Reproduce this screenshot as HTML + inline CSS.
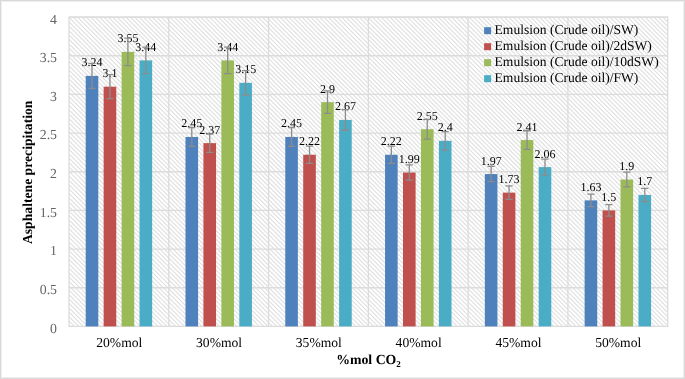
<!DOCTYPE html><html><head><meta charset="utf-8"><style>html,body{margin:0;padding:0;background:#fff}svg{display:block;will-change:transform}text{font-family:"Liberation Serif",serif;text-rendering:geometricPrecision}</style></head><body>
<svg width="685" height="379" viewBox="0 0 685 379">
<defs><clipPath id="pc"><rect x="69.0" y="17.1" width="598.7" height="309.29999999999995"/></clipPath></defs>
<rect x="0" y="0" width="685" height="379" fill="#fff"/>
<rect x="69.0" y="17.1" width="598.7" height="309.29999999999995" fill="#fff"/>
<path d="M69.00 325.40L70.00 326.40M69.00 321.00L74.40 326.40M69.00 316.60L78.80 326.40M69.00 312.20L83.20 326.40M69.00 307.80L87.60 326.40M69.00 303.40L92.00 326.40M69.00 299.00L96.40 326.40M69.00 294.60L100.80 326.40M69.00 290.20L105.20 326.40M69.00 285.80L109.60 326.40M69.00 281.40L114.00 326.40M69.00 277.00L118.40 326.40M69.00 272.60L122.80 326.40M69.00 268.20L127.20 326.40M69.00 263.80L131.60 326.40M69.00 259.40L136.00 326.40M69.00 255.00L140.40 326.40M69.00 250.60L144.80 326.40M69.00 246.20L149.20 326.40M69.00 241.80L153.60 326.40M69.00 237.40L158.00 326.40M69.00 233.00L162.40 326.40M69.00 228.60L166.80 326.40M69.00 224.20L171.20 326.40M69.00 219.80L175.60 326.40M69.00 215.40L180.00 326.40M69.00 211.00L184.40 326.40M69.00 206.60L188.80 326.40M69.00 202.20L193.20 326.40M69.00 197.80L197.60 326.40M69.00 193.40L202.00 326.40M69.00 189.00L206.40 326.40M69.00 184.60L210.80 326.40M69.00 180.20L215.20 326.40M69.00 175.80L219.60 326.40M69.00 171.40L224.00 326.40M69.00 167.00L228.40 326.40M69.00 162.60L232.80 326.40M69.00 158.20L237.20 326.40M69.00 153.80L241.60 326.40M69.00 149.40L246.00 326.40M69.00 145.00L250.40 326.40M69.00 140.60L254.80 326.40M69.00 136.20L259.20 326.40M69.00 131.80L263.60 326.40M69.00 127.40L268.00 326.40M69.00 123.00L272.40 326.40M69.00 118.60L276.80 326.40M69.00 114.20L281.20 326.40M69.00 109.80L285.60 326.40M69.00 105.40L290.00 326.40M69.00 101.00L294.40 326.40M69.00 96.60L298.80 326.40M69.00 92.20L303.20 326.40M69.00 87.80L307.60 326.40M69.00 83.40L312.00 326.40M69.00 79.00L316.40 326.40M69.00 74.60L320.80 326.40M69.00 70.20L325.20 326.40M69.00 65.80L329.60 326.40M69.00 61.40L334.00 326.40M69.00 57.00L338.40 326.40M69.00 52.60L342.80 326.40M69.00 48.20L347.20 326.40M69.00 43.80L351.60 326.40M69.00 39.40L356.00 326.40M69.00 35.00L360.40 326.40M69.00 30.60L364.80 326.40M69.00 26.20L369.20 326.40M69.00 21.80L373.60 326.40M69.00 17.40L378.00 326.40M73.10 17.10L382.40 326.40M77.50 17.10L386.80 326.40M81.90 17.10L391.20 326.40M86.30 17.10L395.60 326.40M90.70 17.10L400.00 326.40M95.10 17.10L404.40 326.40M99.50 17.10L408.80 326.40M103.90 17.10L413.20 326.40M108.30 17.10L417.60 326.40M112.70 17.10L422.00 326.40M117.10 17.10L426.40 326.40M121.50 17.10L430.80 326.40M125.90 17.10L435.20 326.40M130.30 17.10L439.60 326.40M134.70 17.10L444.00 326.40M139.10 17.10L448.40 326.40M143.50 17.10L452.80 326.40M147.90 17.10L457.20 326.40M152.30 17.10L461.60 326.40M156.70 17.10L466.00 326.40M161.10 17.10L470.40 326.40M165.50 17.10L474.80 326.40M169.90 17.10L479.20 326.40M174.30 17.10L483.60 326.40M178.70 17.10L488.00 326.40M183.10 17.10L492.40 326.40M187.50 17.10L496.80 326.40M191.90 17.10L501.20 326.40M196.30 17.10L505.60 326.40M200.70 17.10L510.00 326.40M205.10 17.10L514.40 326.40M209.50 17.10L518.80 326.40M213.90 17.10L523.20 326.40M218.30 17.10L527.60 326.40M222.70 17.10L532.00 326.40M227.10 17.10L536.40 326.40M231.50 17.10L540.80 326.40M235.90 17.10L545.20 326.40M240.30 17.10L549.60 326.40M244.70 17.10L554.00 326.40M249.10 17.10L558.40 326.40M253.50 17.10L562.80 326.40M257.90 17.10L567.20 326.40M262.30 17.10L571.60 326.40M266.70 17.10L576.00 326.40M271.10 17.10L580.40 326.40M275.50 17.10L584.80 326.40M279.90 17.10L589.20 326.40M284.30 17.10L593.60 326.40M288.70 17.10L598.00 326.40M293.10 17.10L602.40 326.40M297.50 17.10L606.80 326.40M301.90 17.10L611.20 326.40M306.30 17.10L615.60 326.40M310.70 17.10L620.00 326.40M315.10 17.10L624.40 326.40M319.50 17.10L628.80 326.40M323.90 17.10L633.20 326.40M328.30 17.10L637.60 326.40M332.70 17.10L642.00 326.40M337.10 17.10L646.40 326.40M341.50 17.10L650.80 326.40M345.90 17.10L655.20 326.40M350.30 17.10L659.60 326.40M354.70 17.10L664.00 326.40M359.10 17.10L667.70 325.70M363.50 17.10L667.70 321.30M367.90 17.10L667.70 316.90M372.30 17.10L667.70 312.50M376.70 17.10L667.70 308.10M381.10 17.10L667.70 303.70M385.50 17.10L667.70 299.30M389.90 17.10L667.70 294.90M394.30 17.10L667.70 290.50M398.70 17.10L667.70 286.10M403.10 17.10L667.70 281.70M407.50 17.10L667.70 277.30M411.90 17.10L667.70 272.90M416.30 17.10L667.70 268.50M420.70 17.10L667.70 264.10M425.10 17.10L667.70 259.70M429.50 17.10L667.70 255.30M433.90 17.10L667.70 250.90M438.30 17.10L667.70 246.50M442.70 17.10L667.70 242.10M447.10 17.10L667.70 237.70M451.50 17.10L667.70 233.30M455.90 17.10L667.70 228.90M460.30 17.10L667.70 224.50M464.70 17.10L667.70 220.10M469.10 17.10L667.70 215.70M473.50 17.10L667.70 211.30M477.90 17.10L667.70 206.90M482.30 17.10L667.70 202.50M486.70 17.10L667.70 198.10M491.10 17.10L667.70 193.70M495.50 17.10L667.70 189.30M499.90 17.10L667.70 184.90M504.30 17.10L667.70 180.50M508.70 17.10L667.70 176.10M513.10 17.10L667.70 171.70M517.50 17.10L667.70 167.30M521.90 17.10L667.70 162.90M526.30 17.10L667.70 158.50M530.70 17.10L667.70 154.10M535.10 17.10L667.70 149.70M539.50 17.10L667.70 145.30M543.90 17.10L667.70 140.90M548.30 17.10L667.70 136.50M552.70 17.10L667.70 132.10M557.10 17.10L667.70 127.70M561.50 17.10L667.70 123.30M565.90 17.10L667.70 118.90M570.30 17.10L667.70 114.50M574.70 17.10L667.70 110.10M579.10 17.10L667.70 105.70M583.50 17.10L667.70 101.30M587.90 17.10L667.70 96.90M592.30 17.10L667.70 92.50M596.70 17.10L667.70 88.10M601.10 17.10L667.70 83.70M605.50 17.10L667.70 79.30M609.90 17.10L667.70 74.90M614.30 17.10L667.70 70.50M618.70 17.10L667.70 66.10M623.10 17.10L667.70 61.70M627.50 17.10L667.70 57.30M631.90 17.10L667.70 52.90M636.30 17.10L667.70 48.50M640.70 17.10L667.70 44.10M645.10 17.10L667.70 39.70M649.50 17.10L667.70 35.30M653.90 17.10L667.70 30.90M658.30 17.10L667.70 26.50M662.70 17.10L667.70 22.10M667.10 17.10L667.70 17.70" stroke="#e1e1e1" stroke-width="1.2" fill="none" clip-path="url(#pc)"/>
<line x1="69.0" y1="287.74" x2="667.7" y2="287.74" stroke="#dcdcdc" stroke-width="1.3"/>
<line x1="69.0" y1="249.07" x2="667.7" y2="249.07" stroke="#dcdcdc" stroke-width="1.3"/>
<line x1="69.0" y1="210.41" x2="667.7" y2="210.41" stroke="#dcdcdc" stroke-width="1.3"/>
<line x1="69.0" y1="171.75" x2="667.7" y2="171.75" stroke="#dcdcdc" stroke-width="1.3"/>
<line x1="69.0" y1="133.09" x2="667.7" y2="133.09" stroke="#dcdcdc" stroke-width="1.3"/>
<line x1="69.0" y1="94.43" x2="667.7" y2="94.43" stroke="#dcdcdc" stroke-width="1.3"/>
<line x1="69.0" y1="55.76" x2="667.7" y2="55.76" stroke="#dcdcdc" stroke-width="1.3"/>
<line x1="69.0" y1="17.10" x2="667.7" y2="17.10" stroke="#dcdcdc" stroke-width="1.3"/>
<line x1="168.78" y1="17.1" x2="168.78" y2="326.4" stroke="#dcdcdc" stroke-width="1.3"/>
<line x1="268.57" y1="17.1" x2="268.57" y2="326.4" stroke="#dcdcdc" stroke-width="1.3"/>
<line x1="368.35" y1="17.1" x2="368.35" y2="326.4" stroke="#dcdcdc" stroke-width="1.3"/>
<line x1="468.13" y1="17.1" x2="468.13" y2="326.4" stroke="#dcdcdc" stroke-width="1.3"/>
<line x1="567.92" y1="17.1" x2="567.92" y2="326.4" stroke="#dcdcdc" stroke-width="1.3"/>
<rect x="69.0" y="17.1" width="598.7" height="309.29999999999995" fill="none" stroke="#dcdcdc" stroke-width="1.3"/>
<rect x="85.70" y="75.87" width="12.6" height="250.53" fill="#4F81BD"/>
<rect x="103.65" y="86.69" width="12.6" height="239.71" fill="#C0504D"/>
<rect x="121.60" y="51.90" width="12.6" height="274.50" fill="#9BBB59"/>
<rect x="139.55" y="60.40" width="12.6" height="266.00" fill="#4BACC6"/>
<rect x="185.48" y="136.95" width="12.6" height="189.45" fill="#4F81BD"/>
<rect x="203.43" y="143.14" width="12.6" height="183.26" fill="#C0504D"/>
<rect x="221.38" y="60.40" width="12.6" height="266.00" fill="#9BBB59"/>
<rect x="239.33" y="82.83" width="12.6" height="243.57" fill="#4BACC6"/>
<rect x="285.27" y="136.95" width="12.6" height="189.45" fill="#4F81BD"/>
<rect x="303.22" y="154.74" width="12.6" height="171.66" fill="#C0504D"/>
<rect x="321.17" y="102.16" width="12.6" height="224.24" fill="#9BBB59"/>
<rect x="339.12" y="119.94" width="12.6" height="206.46" fill="#4BACC6"/>
<rect x="385.05" y="154.74" width="12.6" height="171.66" fill="#4F81BD"/>
<rect x="403.00" y="172.52" width="12.6" height="153.88" fill="#C0504D"/>
<rect x="420.95" y="129.22" width="12.6" height="197.18" fill="#9BBB59"/>
<rect x="438.90" y="140.82" width="12.6" height="185.58" fill="#4BACC6"/>
<rect x="484.83" y="174.07" width="12.6" height="152.33" fill="#4F81BD"/>
<rect x="502.78" y="192.63" width="12.6" height="133.77" fill="#C0504D"/>
<rect x="520.73" y="140.05" width="12.6" height="186.35" fill="#9BBB59"/>
<rect x="538.68" y="167.11" width="12.6" height="159.29" fill="#4BACC6"/>
<rect x="584.62" y="200.36" width="12.6" height="126.04" fill="#4F81BD"/>
<rect x="602.57" y="210.41" width="12.6" height="115.99" fill="#C0504D"/>
<rect x="620.52" y="179.48" width="12.6" height="146.92" fill="#9BBB59"/>
<rect x="638.47" y="194.95" width="12.6" height="131.45" fill="#4BACC6"/>
<text x="92.00" y="66.37" font-size="12" text-anchor="middle" fill="#000">3.24</text>
<text x="109.95" y="77.19" font-size="12" text-anchor="middle" fill="#000">3.1</text>
<text x="127.90" y="42.40" font-size="12" text-anchor="middle" fill="#000">3.55</text>
<text x="145.85" y="50.90" font-size="12" text-anchor="middle" fill="#000">3.44</text>
<text x="119.29" y="346.9" font-size="13.6" text-anchor="middle" fill="#000">20%mol</text>
<text x="191.78" y="127.45" font-size="12" text-anchor="middle" fill="#000">2.45</text>
<text x="209.73" y="133.64" font-size="12" text-anchor="middle" fill="#000">2.37</text>
<text x="227.68" y="50.90" font-size="12" text-anchor="middle" fill="#000">3.44</text>
<text x="245.63" y="73.33" font-size="12" text-anchor="middle" fill="#000">3.15</text>
<text x="219.08" y="346.9" font-size="13.6" text-anchor="middle" fill="#000">30%mol</text>
<text x="291.57" y="127.45" font-size="12" text-anchor="middle" fill="#000">2.45</text>
<text x="309.52" y="145.24" font-size="12" text-anchor="middle" fill="#000">2.22</text>
<text x="327.47" y="92.66" font-size="12" text-anchor="middle" fill="#000">2.9</text>
<text x="345.42" y="110.44" font-size="12" text-anchor="middle" fill="#000">2.67</text>
<text x="318.86" y="346.9" font-size="13.6" text-anchor="middle" fill="#000">35%mol</text>
<text x="391.35" y="145.24" font-size="12" text-anchor="middle" fill="#000">2.22</text>
<text x="409.30" y="163.02" font-size="12" text-anchor="middle" fill="#000">1.99</text>
<text x="427.25" y="119.72" font-size="12" text-anchor="middle" fill="#000">2.55</text>
<text x="445.20" y="131.32" font-size="12" text-anchor="middle" fill="#000">2.4</text>
<text x="418.64" y="346.9" font-size="13.6" text-anchor="middle" fill="#000">40%mol</text>
<text x="491.13" y="164.57" font-size="12" text-anchor="middle" fill="#000">1.97</text>
<text x="509.08" y="183.13" font-size="12" text-anchor="middle" fill="#000">1.73</text>
<text x="527.03" y="130.55" font-size="12" text-anchor="middle" fill="#000">2.41</text>
<text x="544.98" y="157.61" font-size="12" text-anchor="middle" fill="#000">2.06</text>
<text x="518.43" y="346.9" font-size="13.6" text-anchor="middle" fill="#000">45%mol</text>
<text x="590.92" y="190.86" font-size="12" text-anchor="middle" fill="#000">1.63</text>
<text x="608.87" y="200.91" font-size="12" text-anchor="middle" fill="#000">1.5</text>
<text x="626.82" y="169.98" font-size="12" text-anchor="middle" fill="#000">1.9</text>
<text x="644.77" y="185.45" font-size="12" text-anchor="middle" fill="#000">1.7</text>
<text x="618.21" y="346.9" font-size="13.6" text-anchor="middle" fill="#000">50%mol</text>
<path d="M92.00 63.34V88.39M88.40 63.34H95.60M88.40 88.39H95.60" stroke="#8c8c8c" stroke-width="1.3" fill="none"/>
<path d="M109.95 74.71V98.68M106.35 74.71H113.55M106.35 98.68H113.55" stroke="#8c8c8c" stroke-width="1.3" fill="none"/>
<path d="M127.90 38.17V65.62M124.30 38.17H131.50M124.30 65.62H131.50" stroke="#8c8c8c" stroke-width="1.3" fill="none"/>
<path d="M145.85 47.10V73.70M142.25 47.10H149.45M142.25 73.70H149.45" stroke="#8c8c8c" stroke-width="1.3" fill="none"/>
<path d="M191.78 127.48V146.43M188.18 127.48H195.38M188.18 146.43H195.38" stroke="#8c8c8c" stroke-width="1.3" fill="none"/>
<path d="M209.73 133.98V152.30M206.13 133.98H213.33M206.13 152.30H213.33" stroke="#8c8c8c" stroke-width="1.3" fill="none"/>
<path d="M227.68 47.10V73.70M224.08 47.10H231.28M224.08 73.70H231.28" stroke="#8c8c8c" stroke-width="1.3" fill="none"/>
<path d="M245.63 70.65V95.00M242.03 70.65H249.23M242.03 95.00H249.23" stroke="#8c8c8c" stroke-width="1.3" fill="none"/>
<path d="M291.57 127.48V146.43M287.97 127.48H295.17M287.97 146.43H295.17" stroke="#8c8c8c" stroke-width="1.3" fill="none"/>
<path d="M309.52 146.16V163.32M305.92 146.16H313.12M305.92 163.32H313.12" stroke="#8c8c8c" stroke-width="1.3" fill="none"/>
<path d="M327.47 90.95V113.37M323.87 90.95H331.07M323.87 113.37H331.07" stroke="#8c8c8c" stroke-width="1.3" fill="none"/>
<path d="M345.42 109.62V130.27M341.82 109.62H349.02M341.82 130.27H349.02" stroke="#8c8c8c" stroke-width="1.3" fill="none"/>
<path d="M391.35 146.16V163.32M387.75 146.16H394.95M387.75 163.32H394.95" stroke="#8c8c8c" stroke-width="1.3" fill="none"/>
<path d="M409.30 164.83V180.22M405.70 164.83H412.90M405.70 180.22H412.90" stroke="#8c8c8c" stroke-width="1.3" fill="none"/>
<path d="M427.25 119.36V139.08M423.65 119.36H430.85M423.65 139.08H430.85" stroke="#8c8c8c" stroke-width="1.3" fill="none"/>
<path d="M445.20 131.54V150.10M441.60 131.54H448.80M441.60 150.10H448.80" stroke="#8c8c8c" stroke-width="1.3" fill="none"/>
<path d="M491.13 166.45V181.69M487.53 166.45H494.73M487.53 181.69H494.73" stroke="#8c8c8c" stroke-width="1.3" fill="none"/>
<path d="M509.08 185.94V199.32M505.48 185.94H512.68M505.48 199.32H512.68" stroke="#8c8c8c" stroke-width="1.3" fill="none"/>
<path d="M527.03 130.73V149.36M523.43 130.73H530.63M523.43 149.36H530.63" stroke="#8c8c8c" stroke-width="1.3" fill="none"/>
<path d="M544.98 159.15V175.07M541.38 159.15H548.58M541.38 175.07H548.58" stroke="#8c8c8c" stroke-width="1.3" fill="none"/>
<path d="M590.92 194.06V206.66M587.32 194.06H594.52M587.32 206.66H594.52" stroke="#8c8c8c" stroke-width="1.3" fill="none"/>
<path d="M608.87 204.61V216.21M605.27 204.61H612.47M605.27 216.21H612.47" stroke="#8c8c8c" stroke-width="1.3" fill="none"/>
<path d="M626.82 172.14V186.83M623.22 172.14H630.42M623.22 186.83H630.42" stroke="#8c8c8c" stroke-width="1.3" fill="none"/>
<path d="M644.77 188.37V201.52M641.17 188.37H648.37M641.17 201.52H648.37" stroke="#8c8c8c" stroke-width="1.3" fill="none"/>
<text x="57" y="332.80" font-size="13.8" text-anchor="end" fill="#646464">0</text>
<text x="57" y="294.14" font-size="13.8" text-anchor="end" fill="#646464">0.5</text>
<text x="57" y="255.47" font-size="13.8" text-anchor="end" fill="#646464">1</text>
<text x="57" y="216.81" font-size="13.8" text-anchor="end" fill="#646464">1.5</text>
<text x="57" y="178.15" font-size="13.8" text-anchor="end" fill="#646464">2</text>
<text x="57" y="139.49" font-size="13.8" text-anchor="end" fill="#646464">2.5</text>
<text x="57" y="100.83" font-size="13.8" text-anchor="end" fill="#646464">3</text>
<text x="57" y="62.16" font-size="13.8" text-anchor="end" fill="#646464">3.5</text>
<text x="57" y="23.50" font-size="13.8" text-anchor="end" fill="#646464">4</text>
<rect x="484.1" y="27.2" width="7" height="7" fill="#4F81BD"/>
<text x="494.6" y="34.2" font-size="13.55" fill="#000">Emulsion (Crude oil)/SW)</text>
<rect x="484.1" y="43.2" width="7" height="7" fill="#C0504D"/>
<text x="494.6" y="50.2" font-size="13.55" fill="#000">Emulsion (Crude oil)/2dSW)</text>
<rect x="484.1" y="59.2" width="7" height="7" fill="#9BBB59"/>
<text x="494.6" y="66.2" font-size="13.55" fill="#000">Emulsion (Crude oil)/10dSW)</text>
<rect x="484.1" y="75.2" width="7" height="7" fill="#4BACC6"/>
<text x="494.6" y="82.2" font-size="13.55" fill="#000">Emulsion (Crude oil)/FW)</text>
<text x="368.5" y="363.8" font-size="13.8" font-weight="bold" text-anchor="middle" fill="#000">%mol CO<tspan font-size="9" dy="3">2</tspan></text>
<text transform="translate(31.8,172.3) rotate(-90)" x="0" y="0" font-size="13.66" font-weight="bold" text-anchor="middle" fill="#000">Asphaltene precipitation</text>
<rect x="1.5" y="1.5" width="682" height="376" fill="none" stroke="#efefef" stroke-width="1"/>
<rect x="0.5" y="0.5" width="684" height="378" fill="none" stroke="#d9d9d9" stroke-width="1"/>
</svg></body></html>
